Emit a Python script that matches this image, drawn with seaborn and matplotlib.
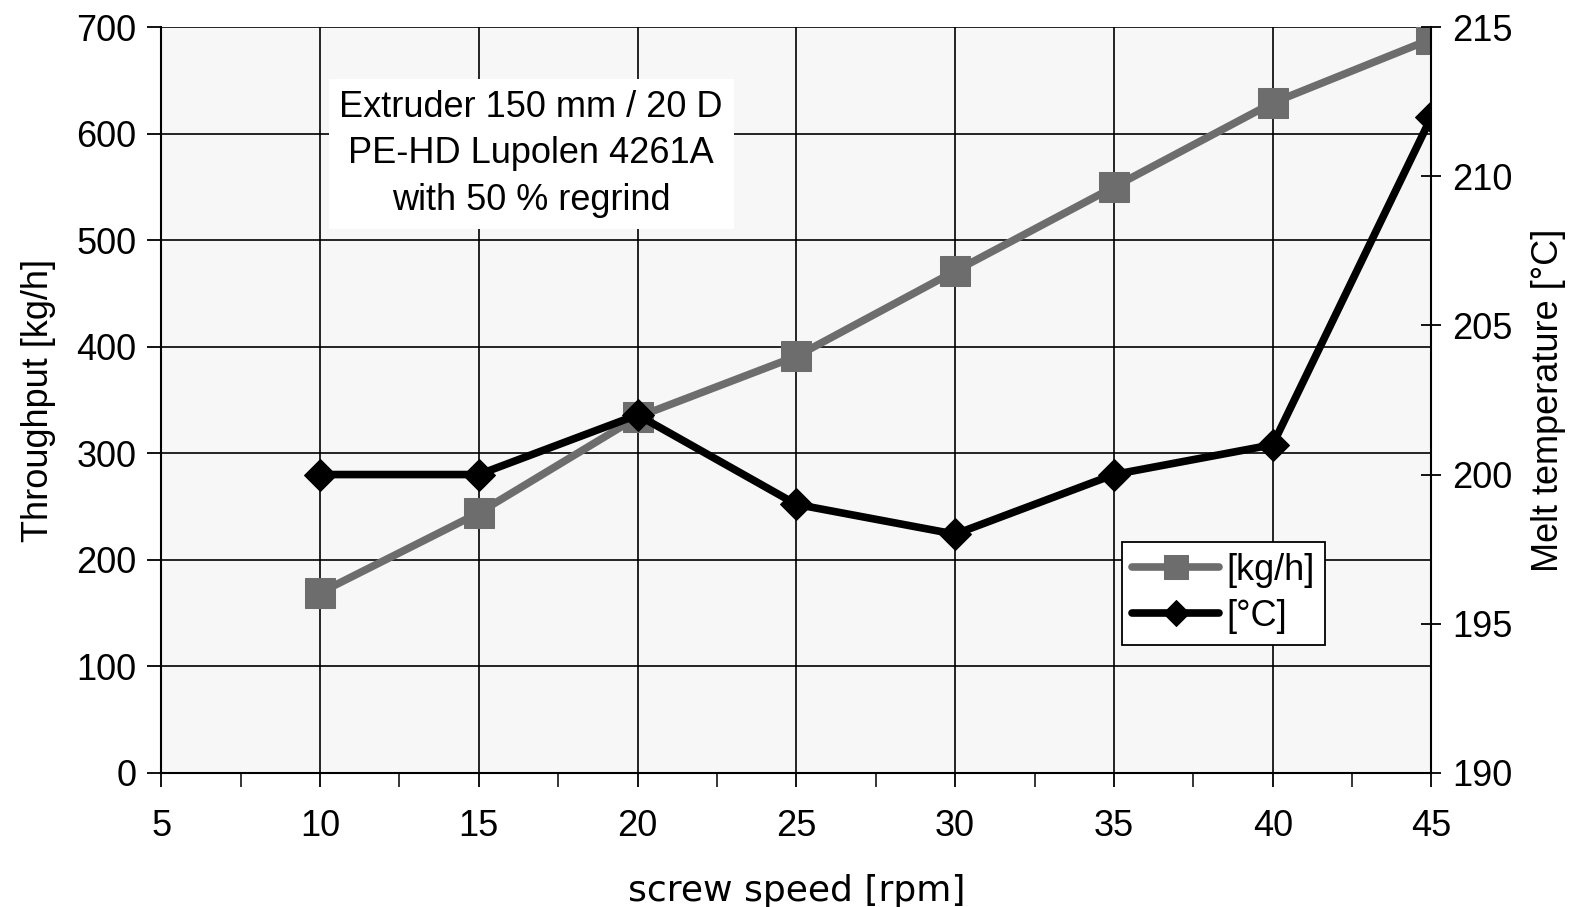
import matplotlib
matplotlib.use("Agg")
import matplotlib.pyplot as plt
import seaborn as sns
import pandas as pd
from matplotlib.ticker import MultipleLocator

# Data
screw_speed = [10, 15, 20, 25, 30, 35, 40, 45]
throughput = [169, 244, 334, 391, 471, 550, 629, 689]
melt_temp = [200, 200, 202, 199, 198, 200, 201, 212]

df = pd.DataFrame({"speed": screw_speed, "kgh": throughput, "temp": melt_temp})

sns.set_style("ticks")
plt.rcParams["font.family"] = ["Liberation Sans", "DejaVu Sans"]
plt.rcParams["text.color"] = "black"
plt.rcParams["axes.labelcolor"] = "black"

fig = plt.figure(figsize=(15.8, 9.07), dpi=100)
ax = fig.add_axes([0.102, 0.148, 0.804, 0.822])
ax2 = ax.twinx()

ax.set_facecolor("#f7f7f7")
ax.set_zorder(1)
ax2.set_zorder(2)

gray = "#6d6d6d"
sns.lineplot(data=df, x="speed", y="kgh", ax=ax, color=gray, lw=5.5,
             marker="s", markersize=21, markeredgecolor=gray, label="[kg/h]", legend=False)
sns.lineplot(data=df, x="speed", y="temp", ax=ax2, color="black", lw=5.5,
             marker="D", markersize=16, markeredgecolor="black", label="[°C]", legend=False)

ax.set_xlim(5, 45)
ax.set_ylim(0, 700)
ax2.set_ylim(190, 215)
ax.xaxis.set_major_locator(MultipleLocator(5))
ax.xaxis.set_minor_locator(MultipleLocator(2.5))
ax.yaxis.set_major_locator(MultipleLocator(100))
ax2.yaxis.set_major_locator(MultipleLocator(5))

ax.grid(True, which="major", color="black", lw=1.2)
ax.set_axisbelow(True)

for a in (ax, ax2):
    for s in a.spines.values():
        s.set_visible(False)
ax.spines["left"].set_visible(True)
ax.spines["bottom"].set_visible(True)
ax2.spines["right"].set_visible(True)
for sp in ("left", "bottom"):
    ax.spines[sp].set_color("black")
    ax.spines[sp].set_linewidth(1.5)
ax2.spines["right"].set_color("black")
ax2.spines["right"].set_linewidth(1.5)

ax.tick_params(axis="both", which="major", labelsize=26, length=10, width=1.3,
               color="black", labelcolor="black", direction="out", pad=8)
ax.tick_params(axis="x", which="minor", length=10, width=1.3, direction="out")
ax.tick_params(axis="x", which="major", pad=16)
ax2.tick_params(axis="y", labelsize=26, length=14, width=1.3, direction="inout",
                color="black", labelcolor="black", pad=8)

ax.set_xlabel("screw speed [rpm]", fontsize=26, labelpad=22, family="DejaVu Sans")
ax.set_ylabel("Throughput [kg/h]", fontsize=26, labelpad=14)
ax2.set_ylabel("Melt temperature [°C]", fontsize=26, labelpad=13)

ax.text(16.65, 581, "Extruder 150 mm / 20 D\nPE-HD Lupolen 4261A\nwith 50 % regrind",
        ha="center", va="center", fontsize=26, linespacing=1.42, zorder=5,
        bbox=dict(facecolor="white", edgecolor="none", boxstyle="square,pad=0.3"))

h1, l1 = ax.get_legend_handles_labels()
h2, l2 = ax2.get_legend_handles_labels()
leg = ax2.legend(h1 + h2, l1 + l2, loc="lower left", bbox_to_anchor=(0.756, 0.172),
                 fontsize=26, frameon=True, fancybox=False, framealpha=1,
                 edgecolor="black", handlelength=2.4, handletextpad=0.2,
                 borderpad=0.3, labelspacing=0.3, borderaxespad=0, markerscale=0.85)
leg.get_frame().set_linewidth(1.3)

fig.savefig("out.png", dpi=100)
